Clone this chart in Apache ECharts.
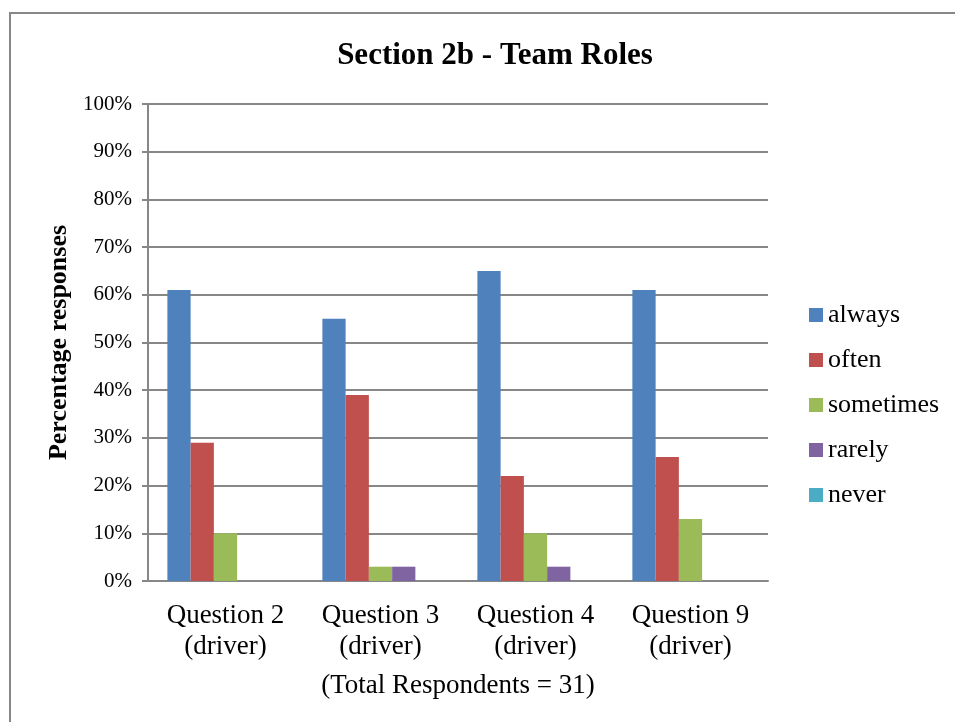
<!DOCTYPE html>
<html>
<head>
<meta charset="utf-8">
<title>Section 2b - Team Roles</title>
<script src="https://cdn.jsdelivr.net/npm/echarts@6/dist/echarts.min.js"></script>
<style>
  html, body { margin: 0; padding: 0; background: #fff; }
  #chart { width: 955px; height: 722px; }
</style>
</head>
<body>
<div id="chart"></div>
<script>
// categories and responses (percent of 31 respondents)
var categories = ['Question 2\n(driver)', 'Question 3\n(driver)', 'Question 4\n(driver)', 'Question 9\n(driver)']
var always = [61, 55, 65, 61]
var often = [29, 39, 22, 26]
var sometimes = [10, 3, 10, 13]
var rarely = [0, 3, 3, 0]
var never = [0, 0, 0, 0]
var seriesNames = ['always', 'often', 'sometimes', 'rarely', 'never']
var seriesColors = ['#4F81BD', '#C0504D', '#9BBB59', '#8064A2', '#4BACC6']

var font = '"Liberation Serif", "Times New Roman", serif'
var gray = '#878787'

var chart = echarts.init(document.getElementById('chart'))

function bar(name, data, color) {
  return {
    name: name,
    type: 'bar',
    data: data,
    barGap: '0%',
    barCategoryGap: '25%',
    itemStyle: { color: color },
    emphasis: { disabled: true }
  }
}

chart.setOption({
  backgroundColor: '#fff',
  animation: false,
  title: {
    text: 'Section 2b - Team Roles',
    left: 490,
    top: 35,
    textAlign: 'center',
    textStyle: {
      fontFamily: font,
      fontSize: 31,
      fontWeight: 'bold',
      color: '#000'
    }
  },
  legend: {
    orient: 'vertical',
    left: 804,
    top: 297,
    itemWidth: 14,
    itemHeight: 14,
    itemGap: 19,
    icon: 'rect',
    data: seriesNames,
    textStyle: {
      fontFamily: font,
      fontSize: 26,
      lineHeight: 26,
      color: '#000'
    }
  },
  grid: {
    left: 148,
    right: 187,
    top: 104,
    bottom: 141
  },
  xAxis: {
    type: 'category',
    data: categories,
    name: '(Total Respondents = 31)',
    nameLocation: 'middle',
    nameGap: 91,
    nameTextStyle: {
      fontFamily: font,
      fontSize: 27,
      color: '#000'
    },
    axisLine: { lineStyle: { color: gray, width: 2 } },
    axisTick: { show: false },
    axisLabel: {
      interval: 0,
      margin: 19,
      fontFamily: font,
      fontSize: 27,
      lineHeight: 31,
      color: '#000'
    }
  },
  yAxis: {
    type: 'value',
    min: 0,
    max: 100,
    interval: 10,
    name: 'Percentage responses',
    nameLocation: 'middle',
    nameGap: 74,
    nameTextStyle: {
      fontFamily: font,
      fontSize: 26,
      fontWeight: 'bold',
      color: '#000'
    },
    axisLine: { show: true, lineStyle: { color: gray, width: 2 } },
    axisTick: { show: true, length: 6, lineStyle: { color: gray, width: 2 } },
    splitLine: { lineStyle: { color: gray, width: 2 } },
    axisLabel: {
      margin: 16,
      fontFamily: font,
      fontSize: 21,
      color: '#000',
      formatter: '{value}%'
    }
  },
  graphic: [
    {
      type: 'rect',
      shape: { x: 10, y: 13, width: 1200, height: 1000 },
      style: { fill: null, stroke: gray, lineWidth: 2 },
      silent: true,
      z: -1
    }
  ],
  series: [
    bar(seriesNames[0], always, seriesColors[0]),
    bar(seriesNames[1], often, seriesColors[1]),
    bar(seriesNames[2], sometimes, seriesColors[2]),
    bar(seriesNames[3], rarely, seriesColors[3]),
    bar(seriesNames[4], never, seriesColors[4])
  ]
})
</script>
</body>
</html>
